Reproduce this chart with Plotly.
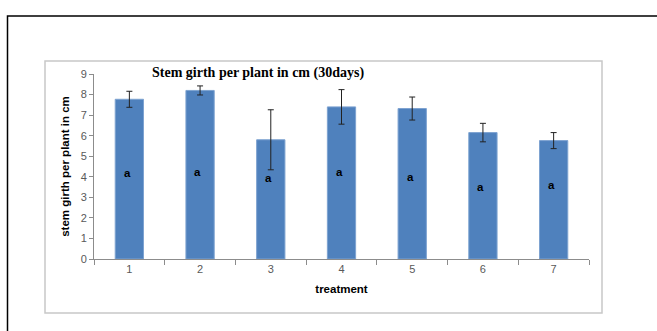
import plotly.graph_objects as go

treatments = ["1", "2", "3", "4", "5", "6", "7"]
girth = [7.77, 8.2, 5.8, 7.4, 7.32, 6.15, 5.76]
err = [0.39, 0.22, 1.46, 0.84, 0.56, 0.45, 0.39]
letters = ["a", "a", "a", "a", "a", "a", "a"]
letter_y = [4.17, 4.23, 3.94, 4.23, 3.97, 3.52, 3.58]

W, H = 657, 331
L, R, T, B = 94, 589, 74, 259

def px(x):
    return (x - L) / (R - L)

def py(y):
    return (B - y) / (B - T)

fig = go.Figure()
fig.add_trace(go.Bar(
    x=treatments, y=girth,
    marker=dict(color="#4F81BD", line=dict(color="#7EA3D1", width=1)),
    error_y=dict(type="data", array=err, visible=True, color="#222222",
                 thickness=1, width=3),
    showlegend=False,
))
for i, (ly, lt) in enumerate(zip(letter_y, letters)):
    fig.add_annotation(x=i - 0.03, y=ly, xref="x", yref="y", text="<b>" + lt + "</b>", showarrow=False,
                       font=dict(family="Liberation Sans, Arial", size=11.5, color="#000000"))

fig.add_annotation(xref="paper", yref="paper", x=px(258), y=py(73), showarrow=False,
                   xanchor="center", yanchor="middle",
                   text="<b>Stem girth per plant in cm (30days)</b>",
                   font=dict(family="Liberation Serif, Times New Roman", size=14, color="#000000"))

# chart area frame (gray) and outer border (black)
fig.add_shape(type="rect", xref="paper", yref="paper",
              x0=px(45), x1=px(602), y0=py(313), y1=py(61),
              line=dict(color="#C8C8C8", width=1.5), layer="below")
fig.add_shape(type="rect", xref="paper", yref="paper",
              x0=px(7.5), x1=px(670), y0=py(345), y1=py(16),
              line=dict(color="#000000", width=1.5), layer="below")

axis_font = dict(family="Liberation Sans Narrow, Liberation Sans, Arial", size=11, color="#595959")
title_font = dict(family="Liberation Sans Narrow, Liberation Sans, Arial", size=11.5, color="#000000")
fig.update_layout(
    width=W, height=H,
    margin=dict(l=L, r=W - R, t=T, b=H - B),
    paper_bgcolor="white", plot_bgcolor="white",
    bargap=0.6,
    xaxis=dict(
        type="category", range=[-0.5, 6.5],
        showline=True, linecolor="#8C8C8C", linewidth=1,
        ticks="outside", tickson="boundaries", ticklen=5, tickcolor="#8C8C8C",
        tickfont=axis_font, showgrid=False,
        title=dict(text="<b>treatment</b>", standoff=10, font=title_font),
    ),
    yaxis=dict(
        range=[0, 9], dtick=1, showline=True, linecolor="#8C8C8C", linewidth=1,
        ticks="outside", ticklen=4, tickcolor="#8C8C8C", tickfont=axis_font,
        showgrid=False, zeroline=False,
        title=dict(text="<b>stem girth per plant in cm</b>", standoff=8, font=title_font),
    ),
)

fig.write_html("out.html", config={"displayModeBar": False},
               post_script="document.body.style.margin='0';")
